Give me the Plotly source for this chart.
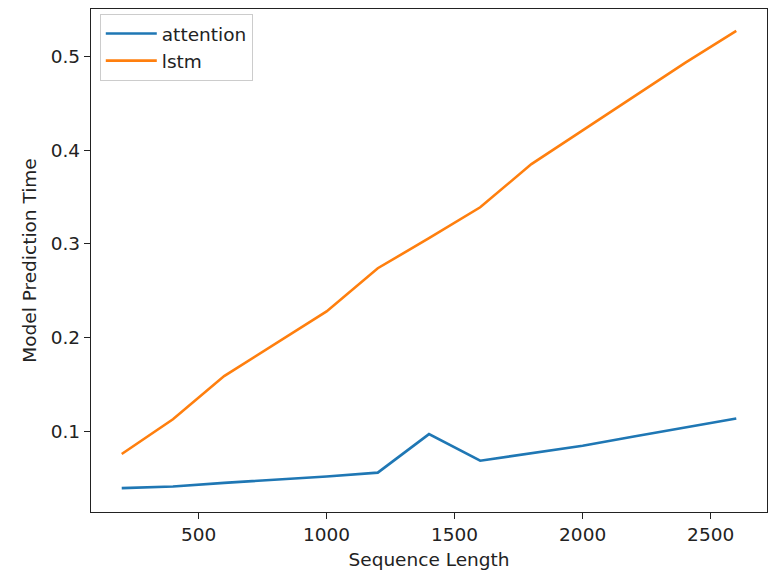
import plotly.graph_objects as go

seq_len = [200, 400, 600, 800, 1000, 1200, 1400, 1600, 1800, 2000, 2200, 2400, 2600]
attention = [0.0396, 0.0413, 0.0452, 0.0482, 0.0519, 0.0561, 0.0971, 0.0688, 0.0770, 0.0847, 0.0945, 0.1042, 0.1138]
lstm = [0.0759, 0.1130, 0.1590, 0.1935, 0.2280, 0.2740, 0.3060, 0.3390, 0.3850, 0.4210, 0.4570, 0.4930, 0.5270]

x_ticks = [500, 1000, 1500, 2000, 2500]
y_ticks = [0.1, 0.2, 0.3, 0.4, 0.5]

font = "DejaVu Sans"
fs = 18.5
fig = go.Figure()
fig.add_trace(go.Scatter(x=seq_len, y=attention, mode="lines", name="attention",
                         line=dict(color="#1f77b4", width=2.6)))
fig.add_trace(go.Scatter(x=seq_len, y=lstm, mode="lines", name="lstm",
                         line=dict(color="#ff7f0e", width=2.6)))

axis_common = dict(showgrid=False, zeroline=False, showline=True, linecolor="#222222",
                   linewidth=1.4, mirror=True, ticks="outside", ticklen=6, tickwidth=1.4,
                   tickcolor="#222222", tickfont=dict(family=font, size=fs, color="#222222"))

fig.update_layout(
    width=769, height=573,
    margin=dict(l=91, r=2, t=9, b=61),
    plot_bgcolor="white", paper_bgcolor="white",
    font=dict(family=font, size=fs, color="#222222"),
    xaxis=dict(range=[80, 2720], tickvals=x_ticks, ticktext=[str(v) for v in x_ticks],
               title=dict(text="Sequence Length", font=dict(family=font, size=fs), standoff=8),
               **axis_common),
    yaxis=dict(range=[0.0141, 0.5504], tickvals=y_ticks, ticktext=[f"{v:.1f}" for v in y_ticks],
               title=dict(text="Model Prediction Time", font=dict(family=font, size=fs), standoff=9),
               **axis_common),
    legend=dict(x=0.013, y=0.99, xanchor="left", yanchor="top", itemwidth=51,
                bgcolor="rgba(255,255,255,0.8)", bordercolor="#cccccc", borderwidth=1,
                font=dict(family=font, size=fs), tracegroupgap=0),
    showlegend=True,
)

fig.write_html("out.html", config={"displayModeBar": False},
               post_script="document.body.style.margin='0';")
